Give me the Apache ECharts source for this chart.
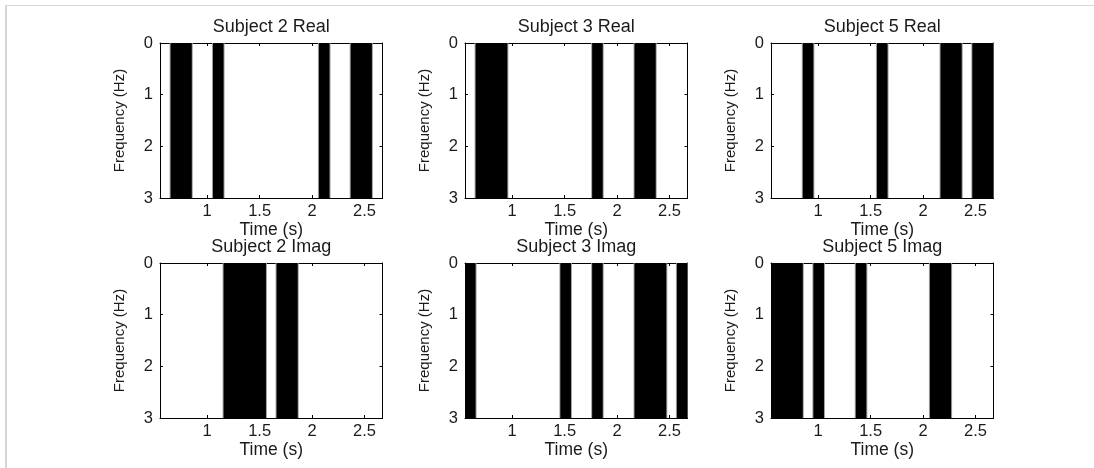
<!DOCTYPE html>
<html>
<head>
<meta charset="utf-8">
<script src="https://cdn.jsdelivr.net/npm/echarts@6/dist/echarts.min.js"></script>
<style>
  html, body { margin: 0; padding: 0; background: #ffffff; }
  #chart { width: 1094px; height: 468px; }
</style>
</head>
<body>
<div id="chart"></div>
<script>
// Time bins (centres, s) shared by all six panels
const timeCenters = [0.601, 0.702, 0.803, 0.904, 1.005, 1.106, 1.207, 1.308, 1.409, 1.510,
                     1.611, 1.712, 1.813, 1.914, 2.015, 2.116, 2.217, 2.318, 2.419, 2.520, 2.621];
const binWidth = 0.101;
const freqRange = [0, 3];
const xTickValues = [1, 1.5, 2, 2.5];

// Binary activation per time bin (1 = black column across all frequencies)
const subject2Real = [0,1,1,0,0,1,0,0,0,0,0,0,0,0,0,1,0,0,1,1,0];
const subject3Real = [0,1,1,1,0,0,0,0,0,0,0,0,1,0,0,0,1,1,0,0,0];
const subject5Real = [0,0,0,1,0,0,0,0,0,0,1,0,0,0,0,0,1,1,0,1,1];
const subject2Imag = [0,0,0,0,0,0,1,1,1,1,0,1,1,0,0,0,0,0,0,0,0];
const subject3Imag = [1,0,0,0,0,0,0,0,0,1,0,0,1,0,0,0,1,1,1,0,1];
const subject5Imag = [1,1,1,0,1,0,0,0,1,0,0,0,0,0,0,1,1,0,0,0,0];

const panelTitles = ['Subject 2 Real', 'Subject 3 Real', 'Subject 5 Real',
                     'Subject 2 Imag', 'Subject 3 Imag', 'Subject 5 Imag'];
const panelMasks = [subject2Real, subject3Real, subject5Real,
                    subject2Imag, subject3Imag, subject5Imag];

const xName = 'Time (s)';
const yName = 'Frequency (Hz)';

// Layout of the 2 x 3 subplot grid (pixels)
const colLeft = [160, 465, 771];
const rowTop = [43, 263];
const plotW = 222.5;
const plotH = 155;

const FONT = 'Arial, "Liberation Sans", Helvetica, sans-serif';
const TEXT = '#1b1b1b';

const xMin = timeCenters[0] - binWidth / 2;
const xMax = timeCenters[timeCenters.length - 1] + binWidth / 2;

const grids = [], xAxes = [], yAxes = [], series = [], graphics = [];

// Draws each run of consecutive active bins as one solid column
function columnRenderer(mask, fill, pad) {
  return function (params, api) {
    const i = params.dataIndex;
    if (mask[i] !== 1 || (i > 0 && mask[i - 1] === 1)) return null;
    let j = i;
    while (j + 1 < mask.length && mask[j + 1] === 1) j++;
    const p0 = api.coord([timeCenters[i] - binWidth / 2, freqRange[0]]);
    const p1 = api.coord([timeCenters[j] + binWidth / 2, freqRange[1]]);
    return {
      type: 'rect',
      shape: {
        x: p0[0] - pad,
        y: Math.min(p0[1], p1[1]),
        width: p1[0] - p0[0] + 2 * pad,
        height: Math.abs(p1[1] - p0[1])
      },
      style: { fill: fill }
    };
  };
}

panelMasks.forEach(function (mask, p) {
  const col = p % 3, row = Math.floor(p / 3);
  grids.push({ left: colLeft[col], top: rowTop[row], width: plotW, height: plotH });

  const tickStyle = { show: true, inside: true, length: 3, lineStyle: { color: '#000', width: 1 } };
  const lineStyle = { show: true, onZero: false, lineStyle: { color: '#000', width: 1 } };

  // bottom x axis with labels
  xAxes.push({
    type: 'value', gridIndex: p, position: 'bottom', min: xMin, max: xMax,
    axisLine: lineStyle,
    axisTick: Object.assign({ customValues: xTickValues }, tickStyle),
    axisLabel: { customValues: xTickValues, margin: 5, color: TEXT, fontSize: 16.5, fontFamily: FONT,
                 formatter: function (v) { return String(v); } },
    splitLine: { show: false },
    name: xName, nameLocation: 'middle', nameGap: 21,
    nameTextStyle: { color: TEXT, fontSize: 17.5, fontFamily: FONT }
  });
  // top x axis: box edge with ticks only
  xAxes.push({
    type: 'value', gridIndex: p, position: 'top', min: xMin, max: xMax,
    axisLine: lineStyle,
    axisTick: Object.assign({ customValues: xTickValues }, tickStyle),
    axisLabel: { show: false },
    splitLine: { show: false }
  });
  // left y axis (frequency increases downward)
  yAxes.push({
    type: 'value', gridIndex: p, position: 'left', inverse: true,
    min: freqRange[0], max: freqRange[1], interval: 1,
    axisLine: lineStyle, axisTick: tickStyle,
    axisLabel: { margin: 7, color: TEXT, fontSize: 16.5, fontFamily: FONT },
    splitLine: { show: false },
    name: yName, nameLocation: 'middle', nameRotate: 90, nameGap: 33,
    nameTextStyle: { color: TEXT, fontSize: 15, fontFamily: FONT }
  });
  // right y axis: box edge with ticks only
  yAxes.push({
    type: 'value', gridIndex: p, position: 'right', inverse: true,
    min: freqRange[0], max: freqRange[1], interval: 1,
    axisLine: lineStyle, axisTick: tickStyle,
    axisLabel: { show: false },
    splitLine: { show: false }
  });

  const data = timeCenters.map(function (t, i) { return [t, mask[i]]; });
  // soft grey fringe, then solid black columns on top
  series.push({
    type: 'custom', xAxisIndex: 2 * p, yAxisIndex: 2 * p, clip: true, z: 3,
    renderItem: columnRenderer(mask, '#a0a0a0', 1), data: data, silent: true
  });
  series.push({
    type: 'custom', xAxisIndex: 2 * p, yAxisIndex: 2 * p, clip: true, z: 4,
    renderItem: columnRenderer(mask, '#000000', 0), data: data, silent: true
  });

  graphics.push({
    type: 'text', x: colLeft[col] + plotW / 2, y: rowTop[row] - 16,
    style: { text: panelTitles[p], fill: TEXT, fontSize: 18, fontFamily: FONT,
             align: 'center', verticalAlign: 'middle' }
  });
});

// light frame along the top and left of the figure
graphics.push({ type: 'line', shape: { x1: 5, y1: 5.5, x2: 1094, y2: 5.5 },
                style: { stroke: '#d6d6d6', lineWidth: 1 } });
graphics.push({ type: 'line', shape: { x1: 6, y1: 5, x2: 6, y2: 468 },
                style: { stroke: '#d6d6d6', lineWidth: 2 } });

const chart = echarts.init(document.getElementById('chart'), null, { renderer: 'canvas' });
chart.setOption({
  animation: false,
  backgroundColor: '#ffffff',
  grid: grids,
  xAxis: xAxes,
  yAxis: yAxes,
  series: series,
  graphic: graphics
});
</script>
</body>
</html>
